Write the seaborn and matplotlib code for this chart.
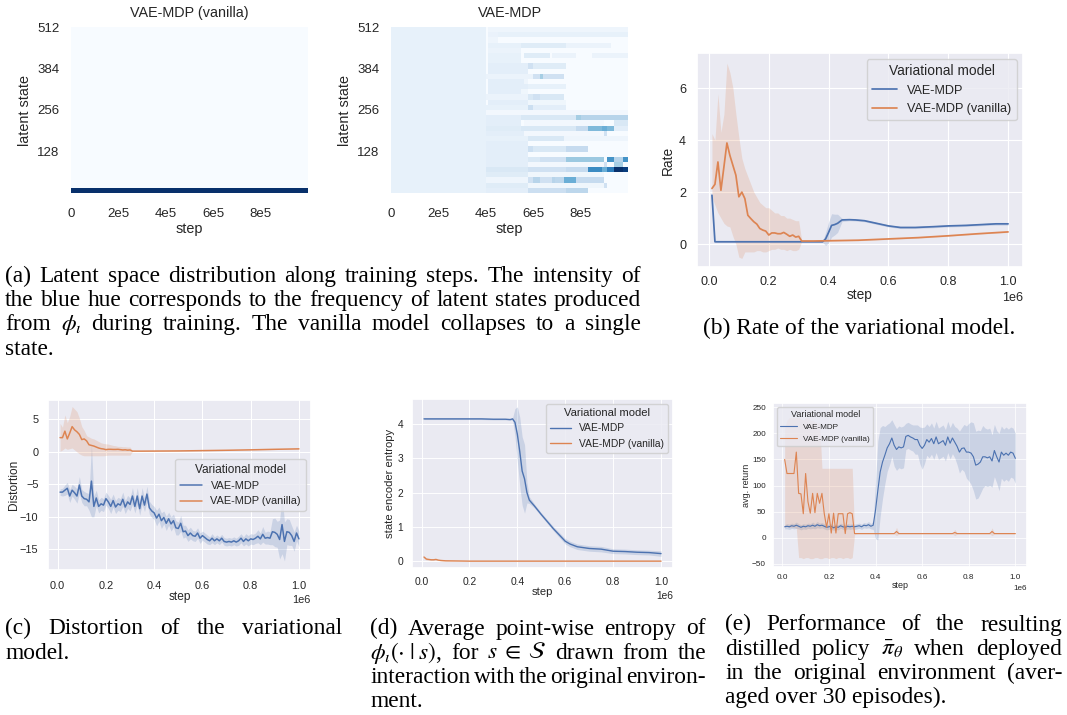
import re
import numpy as np
import pandas as pd
import matplotlib
matplotlib.use("Agg")
import matplotlib.pyplot as plt
import seaborn as sns

W, H = 1067, 715

# ---------------- data ----------------
models = ["VAE-MDP", "VAE-MDP (vanilla)"]

# latent heatmap: 32 bins of 16 latent states x 100 columns of 1e4 steps
n_bins, n_cols = 32, 100
vanilla_bin = 0
early_cols = 40
early_value = 0.08
# (bin, first column, last column + 1, intensity)
latent_runs = [
    (0, 40, 58, 0.10), (0, 58, 74, 0.22), (0, 74, 83, 0.28),
    (1, 40, 58, 0.12), (1, 58, 90, 0.04), (1, 90, 91, 0.20),
    (2, 40, 58, 0.05), (2, 58, 60, 0.20), (2, 60, 63, 0.30), (2, 63, 68, 0.20),
    (2, 68, 69, 0.30), (2, 69, 73, 0.28), (2, 73, 78, 0.50), (2, 78, 90, 0.25),
    (3, 40, 58, 0.12), (3, 58, 90, 0.04),
    (4, 40, 58, 0.15), (4, 58, 74, 0.20), (4, 74, 83, 0.25), (4, 83, 89, 0.65),
    (4, 89, 91, 0.50), (4, 91, 94, 0.70), (4, 94, 98, 1.00), (4, 98, 100, 0.95),
    (5, 40, 58, 0.10), (5, 58, 90, 0.03), (5, 90, 91, 0.20), (5, 94, 98, 0.35),
    (6, 40, 58, 0.10), (6, 58, 63, 0.15), (6, 63, 74, 0.20), (6, 74, 90, 0.38),
    (6, 91, 94, 0.62), (6, 94, 98, 0.30), (6, 98, 100, 0.62),
    (7, 40, 58, 0.10),
    (8, 40, 58, 0.10), (8, 58, 60, 0.22), (8, 60, 74, 0.15), (8, 74, 83, 0.25),
    (9, 40, 58, 0.10),
    (10, 40, 58, 0.08), (10, 58, 73, 0.15), (10, 73, 100, 0.05),
    (11, 40, 56, 0.10), (11, 56, 90, 0.03), (11, 90, 91, 0.20),
    (12, 40, 55, 0.12), (12, 55, 78, 0.15), (12, 78, 83, 0.25), (12, 83, 89, 0.45),
    (12, 89, 91, 0.50), (12, 91, 94, 0.45), (12, 94, 100, 0.10),
    (13, 40, 55, 0.10), (13, 56, 90, 0.03), (13, 94, 100, 0.15),
    (14, 40, 55, 0.10), (14, 55, 78, 0.15), (14, 78, 80, 0.35), (14, 80, 100, 0.30),
    (15, 40, 100, 0.03),
    (16, 40, 58, 0.08), (16, 58, 60, 0.22), (16, 60, 74, 0.10),
    (17, 41, 58, 0.10), (17, 58, 74, 0.04),
    (18, 40, 58, 0.06), (18, 58, 60, 0.15), (18, 60, 63, 0.20), (18, 63, 73, 0.15),
    (19, 41, 55, 0.10), (19, 55, 58, 0.04),
    (20, 41, 58, 0.10), (20, 58, 74, 0.08),
    (21, 41, 56, 0.10), (21, 56, 58, 0.05),
    (22, 40, 60, 0.06), (22, 60, 63, 0.20), (22, 63, 64, 0.35), (22, 64, 73, 0.20),
    (23, 41, 58, 0.10),
    (24, 41, 58, 0.10), (24, 58, 60, 0.20), (24, 60, 74, 0.12),
    (25, 41, 55, 0.08),
    (26, 41, 55, 0.08), (26, 56, 67, 0.12), (26, 68, 78, 0.06), (26, 85, 100, 0.06),
    (27, 41, 55, 0.06),
    (28, 41, 55, 0.08), (28, 55, 74, 0.12), (28, 74, 93, 0.06),
    (29, 41, 45, 0.05),
    (30, 41, 45, 0.07), (30, 45, 100, 0.08),
    (31, 41, 100, 0.05),
]
heat_xticks = ["0", "2e5", "4e5", "6e5", "8e5"]
heat_yticks = ["128", "256", "384", "512"]

# steps are given in units of 1e4
# (b) rate
rate_blue_step = [1, 2, 38, 39, 40, 41, 42, 43, 44.5, 47, 49, 52, 56, 60, 64, 69, 75, 80, 86, 91, 96, 100]
rate_blue = [1.88, 0.09, 0.09, 0.2, 0.45, 0.72, 0.75, 0.8, 0.93, 0.94, 0.93, 0.9, 0.8, 0.7,
             0.64, 0.64, 0.67, 0.7, 0.72, 0.75, 0.78, 0.78]
rate_blue_hw = [0.03, 0.02, 0.02, 0.25, 0.4, 0.45, 0.4, 0.35, 0.06, 0.04, 0.04, 0.04, 0.04, 0.04,
                0.04, 0.04, 0.04, 0.04, 0.04, 0.04, 0.05, 0.05]
rate_orange_step = list(range(1, 32)) + [35, 40, 50, 60, 70, 80, 90, 100]
rate_orange = [2.14, 2.3, 3.16, 2.07, 2.97, 3.89, 3.41, 3.03, 2.65, 1.82,
               2.0, 1.75, 1.11, 0.98, 0.86, 0.77, 0.6, 0.54, 0.5, 0.35,
               0.43, 0.43, 0.4, 0.4, 0.45, 0.38, 0.3, 0.35, 0.27, 0.3,
               0.12, 0.12, 0.13, 0.15, 0.2, 0.25, 0.32, 0.4, 0.47]
rate_orange_hi = [4.25, 4.0, 5.78, 4.3, 5.0, 6.96, 6.6, 6.0, 5.0, 4.1,
                  3.3, 2.9, 2.6, 2.3, 2.0, 1.8, 1.6, 1.5, 1.4, 1.4,
                  1.3, 1.2, 1.2, 1.1, 1.1, 1.0, 1.0, 0.95, 0.9, 0.9,
                  0.14, 0.14, 0.15, 0.17, 0.22, 0.27, 0.34, 0.42, 0.49]
rate_orange_lo = [1.8, 1.5, 1.2, 1.0, 0.8, 0.7, 0.66, 0.3, 0.0, -0.5,
                  -0.55, -0.3, -0.3, -0.3, -0.3, -0.25, -0.25, -0.3, -0.3, -0.25,
                  -0.2, -0.2, -0.15, -0.2, -0.2, -0.25, -0.2, -0.25, -0.25, -0.2,
                  0.1, 0.1, 0.11, 0.13, 0.18, 0.23, 0.3, 0.38, 0.45]

# (c) distortion
dist_blue_step = list(range(1, 101))
dist_blue = [-6.2, -6.2, -5.9, -5.6, -6.8, -5.9, -6.3, -6.8, -5.1, -6.8,
             -7.2, -7.3, -7.7, -4.5, -8.4, -7.1, -8.4, -8.0, -8.2, -7.2,
             -7.7, -8.4, -7.5, -8.5, -8.0, -8.2, -7.3, -8.5, -7.7, -8.1,
             -6.8, -8.4, -6.8, -8.75, -6.8, -8.2, -6.5, -8.6, -9.1, -9.4,
             -10.2, -9.6, -10.6, -10.1, -11.0, -10.3, -11.1, -10.6, -11.7, -11.8,
             -11.0, -12.3, -12.2, -12.9, -12.5, -12.9, -13.0, -12.5, -13.3, -12.9,
             -13.2, -13.5, -13.7, -13.3, -13.7, -13.4, -13.7, -13.3, -13.8, -13.9,
             -13.8, -13.9, -13.7, -13.9, -13.7, -13.3, -13.8, -13.4, -13.7, -13.4,
             -13.5, -13.3, -13.0, -13.4, -12.7, -13.3, -13.2, -13.3, -12.3, -12.4,
             -12.7, -13.5, -11.2, -13.8, -12.3, -12.4, -12.9, -13.8, -12.5, -13.4]
dist_blue_hw = [0.5, 0.6, 0.8, 0.9, 1.0, 0.9, 1.0, 1.1, 1.3, 1.0,
                1.1, 1.0, 1.3, 5.5, 1.6, 1.2, 1.0, 1.0, 1.0, 1.0,
                1.0, 1.1, 1.0, 1.0, 1.0, 1.0, 1.1, 1.0, 1.0, 1.0,
                1.3, 1.0, 1.3, 1.0, 1.3, 1.0, 1.2, 1.0, 1.0, 1.0,
                1.2, 1.1, 1.2, 1.0, 1.1, 1.0, 1.1, 1.0, 1.1, 1.0,
                1.2, 1.0, 0.9, 0.9, 0.9, 0.8, 0.8, 0.8, 0.8, 0.7,
                0.7, 0.7, 0.6, 0.7, 0.6, 0.6, 0.6, 0.6, 0.6, 0.6,
                0.6, 0.6, 0.6, 0.6, 0.7, 0.7, 0.7, 0.8, 0.8, 0.8,
                0.8, 0.8, 1.0, 0.9, 1.2, 0.9, 1.0, 1.0, 2.0, 2.2,
                2.0, 3.0, 4.5, 3.0, 2.0, 2.0, 1.5, 1.5, 1.2, 1.2]
dist_orange_step = list(range(1, 32)) + [35, 40, 50, 60, 70, 80, 90, 100]
dist_orange = [2.2, 2.2, 3.2, 2.0, 2.9, 3.9, 3.4, 3.1, 2.7, 1.9,
               2.0, 1.7, 1.1, 1.0, 0.9, 0.75, 0.6, 0.5, 0.45, 0.35,
               0.4, 0.4, 0.38, 0.38, 0.4, 0.35, 0.3, 0.33, 0.27, 0.3,
               0.12, 0.12, 0.13, 0.15, 0.2, 0.25, 0.32, 0.4, 0.47]
dist_orange_hi = [4.4, 3.8, 5.7, 4.5, 5.5, 7.0, 6.6, 6.2, 5.2, 3.9,
                  3.3, 2.5, 2.3, 2.1, 2.0, 1.8, 1.6, 1.4, 1.3, 1.25,
                  1.2, 1.1, 1.0, 0.95, 0.85, 0.85, 0.8, 0.8, 0.75, 0.75,
                  0.15, 0.15, 0.16, 0.18, 0.23, 0.28, 0.35, 0.43, 0.5]
dist_orange_lo = [0.1, 0.3, 0.6, 0.4, 0.5, 0.6, 0.3, 0.0, -0.3, -0.5,
                  -0.6, -0.6, -0.6, -0.6, -0.6, -0.6, -0.6, -0.6, -0.6, -0.55,
                  -0.5, -0.5, -0.5, -0.5, -0.5, -0.5, -0.5, -0.5, -0.5, -0.5,
                  0.09, 0.09, 0.1, 0.12, 0.17, 0.22, 0.29, 0.37, 0.44]

# (d) state encoder entropy
ent_blue_step = [1, 5, 10, 15, 20, 25, 30, 35, 37, 38, 39, 40, 41, 42, 43, 44, 45, 47, 50,
                 55, 60, 62, 65, 70, 75, 80, 85, 90, 95, 100]
ent_blue = [4.15, 4.15, 4.15, 4.15, 4.15, 4.15, 4.14, 4.14, 4.13, 4.15, 4.05, 3.7, 3.2, 2.63,
            2.4, 2.0, 1.78, 1.62, 1.36, 0.95, 0.58, 0.5, 0.42, 0.37, 0.35, 0.29, 0.28, 0.26,
            0.25, 0.22]
ent_blue_hw = [0.02, 0.02, 0.02, 0.02, 0.02, 0.02, 0.02, 0.02, 0.02, 0.03, 0.4, 0.8, 1.0, 1.0,
               1.0, 0.3, 0.1, 0.06, 0.05, 0.06, 0.08, 0.08, 0.08, 0.08, 0.08, 0.07, 0.07, 0.07,
               0.07, 0.08]
ent_orange_step = [1, 2, 3, 4, 5, 6, 7, 8, 10, 15, 20, 30, 40, 50, 60, 70, 80, 90, 100]
ent_orange = [0.12, 0.06, 0.05, 0.04, 0.04, 0.05, 0.03, 0.02, 0.01, 0.005, 0.0, 0.0, 0.0,
              0.0, 0.0, 0.0, 0.0, 0.0, 0.0]
ent_orange_hw = [0.04, 0.03, 0.02, 0.02, 0.02, 0.02, 0.01, 0.01, 0.01, 0.005, 0.003, 0.003,
                 0.003, 0.003, 0.003, 0.003, 0.003, 0.003, 0.003]

# (e) average return
ret_blue_step = list(range(1, 101))
ret_blue = [21, 22, 21, 23, 22, 24, 22, 20, 22, 21,
            23, 22, 24, 22, 25, 23, 24, 22, 20, 21,
            22, 19, 21, 20, 23, 21, 20, 22, 21, 22,
            21, 22, 23, 21, 24, 23, 25, 22, 24, 53,
            91, 126, 145, 158, 172, 180, 191, 177, 169, 174,
            172, 174, 194, 196, 193, 191, 188, 188, 177, 171,
            177, 188, 183, 190, 180, 193, 180, 183, 186, 177,
            193, 181, 191, 183, 175, 164, 171, 172, 164, 164,
            162, 155, 139, 141, 145, 155, 155, 153, 155, 147,
            167, 155, 145, 164, 158, 162, 158, 164, 162, 152]
ret_blue_hw = [4, 5, 5, 5, 5, 6, 5, 5, 5, 5,
               5, 5, 6, 5, 6, 5, 5, 5, 5, 5,
               5, 5, 5, 5, 5, 5, 5, 5, 5, 5,
               5, 5, 5, 5, 5, 5, 6, 5, 8, 55,
               95, 85, 70, 55, 45, 40, 35, 40, 40, 40,
               40, 40, 25, 25, 25, 25, 28, 28, 35, 40,
               35, 30, 30, 30, 30, 30, 30, 30, 30, 30,
               30, 30, 30, 30, 35, 40, 40, 45, 50, 55,
               60, 65, 65, 65, 60, 60, 55, 55, 55, 50,
               50, 50, 55, 50, 50, 50, 50, 48, 48, 48]
ret_orange_step = list(range(1, 32)) + [32, 40, 48, 49, 50, 60, 73, 74, 75, 80, 89, 90, 91, 100]
ret_orange = [150, 123, 123, 123, 123, 164, 85, 84, 46, 123,
              69, 47, 85, 48, 85, 66, 85, 46, 20, 46,
              9, 47, 9, 46, 46, 46, 8, 46, 48, 46, 8,
              8, 8, 8, 12, 8, 8, 8, 10, 8, 8, 8, 12, 8, 8]
ret_orange_hi = [210, 225, 230, 230, 230, 230, 230, 228, 225, 230,
                 230, 225, 225, 222, 220, 221, 133, 133, 133, 133,
                 133, 133, 133, 133, 133, 133, 133, 133, 133, 133, 10,
                 9, 9, 9, 20, 9, 9, 9, 16, 9, 9, 9, 19, 9, 9]
ret_orange_lo = [20, 22, 20, 20, 20, 18, -38, -38, -40, -38,
                 -38, -40, -40, -38, -38, -40, -40, -38, -38, -40,
                 -38, -38, -40, -38, -38, -40, -38, -38, -40, -38, 6,
                 7, 7, 7, 4, 7, 7, 7, 4, 7, 7, 7, 4, 7, 7]

# captions
cap_a = ["(a) Latent space distribution along training steps. The intensity of",
         "the blue hue corresponds to the frequency of latent states produced",
         r"from $\phi_\iota$ during training.  The vanilla model collapses to a single",
         "state."]
cap_b = ["(b) Rate of the variational model."]
cap_c = ["(c) Distortion of the variational",
         "model."]
cap_d = ["(d) Average point-wise entropy of",
         r"$\phi_\iota(\cdot\;|\;s)$, for $s\;\in\;\mathcal{S}$ drawn from the",
         "interaction with the original environ-",
         "ment."]
cap_e = ["(e) Performance of the resulting",
         r"distilled policy $\bar{\pi}_\theta$ when deployed",
         "in the original environment (aver-",
         "aged over 30 episodes)."]

# ---------------- style ----------------
sns.set_theme(style="darkgrid")
plt.rcParams["font.family"] = ["Liberation Sans", "DejaVu Sans"]
plt.rcParams["mathtext.fontset"] = "stix"
colors = dict(zip(models, sns.color_palette("deep", 2)))

fig = plt.figure(figsize=(W / 100, H / 100), dpi=100)
fig.patch.set_facecolor("white")


def px_axes(x0, y0, x1, y1):
    return fig.add_axes([x0 / W, 1 - y1 / H, (x1 - x0) / W, (y1 - y0) / H])


# ---------------- heatmaps ----------------
vanilla_mat = np.zeros((n_bins, n_cols))
vanilla_mat[vanilla_bin, :] = 1.0
vae_mat = np.zeros((n_bins, n_cols))
vae_mat[:, :early_cols] = early_value
for b, c0, c1, v in latent_runs:
    vae_mat[b, c0:c1] = v

for mat, title, x0 in [(vanilla_mat, "VAE-MDP (vanilla)", 71), (vae_mat, "VAE-MDP", 391)]:
    ax = px_axes(x0, 27, x0 + 237, 193)
    sns.heatmap(mat, cmap="Blues", vmin=0, vmax=1, cbar=False, ax=ax,
                xticklabels=False, yticklabels=False)
    ax.invert_yaxis()
    ax.set_xticks([0, 20, 40, 60, 80])
    ax.set_xticklabels(heat_xticks, rotation=0)
    ax.set_yticks([8, 16, 24, 32])
    ax.set_yticklabels(heat_yticks, rotation=0)
    ax.tick_params(length=0, labelsize=9.5)
    ax.tick_params(axis="x", pad=10.5)
    ax.tick_params(axis="y", pad=8.2)
    ax.set_xlabel("step", fontsize=10.4, labelpad=1.5)
    ax.set_ylabel("latent state", fontsize=10.4)
    ax.yaxis.set_label_coords(-0.165, 0.5)
    ax.set_title(title, fontsize=10.4, pad=7)


# ---------------- line panels ----------------
def line_panel(box, series, fs_tick, fs_label, lw, ylabel, ylim, yticks, loc,
               xpad, ypad, ylab_x):
    ax = px_axes(*box)
    frames = []
    for name, steps, mean, lo, hi in series:
        frames.append(pd.DataFrame({"step": np.array(steps) * 1e4, "value": mean,
                                    "Variational model": name}))
    df = pd.concat(frames, ignore_index=True)
    sns.lineplot(data=df, x="step", y="value", hue="Variational model", hue_order=models,
                 palette=colors, linewidth=lw, errorbar=None, ax=ax)
    for name, steps, mean, lo, hi in series:
        ax.fill_between(np.array(steps) * 1e4, lo, hi, color=colors[name], alpha=0.2, lw=0)
    ax.set_xlim(-0.04e6, 1.05e6)
    ax.set_ylim(*ylim)
    if yticks is not None:
        ax.set_yticks(yticks)
    ax.grid(linewidth=lw * 0.67)
    ax.tick_params(length=0, labelsize=fs_tick)
    ax.tick_params(axis="x", pad=xpad)
    ax.tick_params(axis="y", pad=ypad)
    ax.xaxis.get_offset_text().set_fontsize(fs_tick)
    ax.set_xlabel("step", fontsize=fs_label, labelpad=0)
    ax.set_ylabel(ylabel, fontsize=fs_label)
    ax.yaxis.set_label_coords(ylab_x, 0.5)
    sns.move_legend(ax, loc, fontsize=fs_tick, title_fontsize=fs_label)
    return ax


def hw_band(steps, mean, hw):
    m = np.array(mean, dtype=float)
    h = np.array(hw, dtype=float)
    return steps, mean, m - h, m + h


b = line_panel((697, 53, 1023, 267),
               [(models[0],) + hw_band(rate_blue_step, rate_blue, rate_blue_hw),
                (models[1], rate_orange_step, rate_orange, rate_orange_lo, rate_orange_hi)],
               9.1, 9.9, 1.24, "Rate", (-0.88, 7.35), [0, 2, 4, 6], "upper right",
               6.3, 7.9, -0.068)

c = line_panel((48, 400, 311, 570),
               [(models[0],) + hw_band(dist_blue_step, dist_blue, dist_blue_hw),
                (models[1], dist_orange_step, dist_orange, dist_orange_lo, dist_orange_hi)],
               7.9, 8.6, 1.08, "Distortion", (-18.2, 8.0), [-15, -10, -5, 0, 5], "center right",
               8.0, 6.8, -0.105)

d = line_panel((412, 399, 673, 568),
               [(models[0],) + hw_band(ent_blue_step, ent_blue, ent_blue_hw),
                (models[1],) + hw_band(ent_orange_step, ent_orange, ent_orange_hw)],
               7.4, 8.1, 1.0, "state encoder entropy", (-0.2, 4.73), [0, 1, 2, 3, 4], "upper right",
               6.2, 6.4, -0.065)

e = line_panel((773, 403, 1027, 567),
               [(models[0],) + hw_band(ret_blue_step, ret_blue, ret_blue_hw),
                (models[1], ret_orange_step, ret_orange, ret_orange_lo, ret_orange_hi)],
               5.9, 6.5, 0.81, "avg. return", (-56, 258), [-50, 0, 50, 100, 150, 200, 250],
               "upper left", 4.8, 5.1, -0.087)

# ---------------- captions ----------------
renderer = fig.canvas.get_renderer()
cap_font = dict(fontsize=16.8, family="Liberation Serif", va="baseline", color="black")


def caption(lines, x0, x1, base0, pitch=24.3):
    for i, line in enumerate(lines):
        y = 1 - (base0 + i * pitch) / H
        if i == len(lines) - 1:
            fig.text(x0 / W, y, line, **cap_font)
            continue
        words = re.findall(r"\$[^$]*\$\S*|\S+", line)
        texts = [fig.text(0, y, w, **cap_font) for w in words]
        widths = [t.get_window_extent(renderer).width for t in texts]
        gap = (x1 - x0 - sum(widths)) / (len(words) - 1)
        x = x0
        for t, wd in zip(texts, widths):
            t.set_x(x / W)
            x += wd + gap


caption(cap_a, 5, 641, 281.7)
fig.text(859 / W, 1 - 334.5 / H, cap_b[0], ha="center", **cap_font)
caption(cap_c, 5, 342, 634.5)
caption(cap_d, 370, 706, 634.5)
caption(cap_e, 725, 1062, 630.5)

fig.savefig("out.png", dpi=100, facecolor="white")
